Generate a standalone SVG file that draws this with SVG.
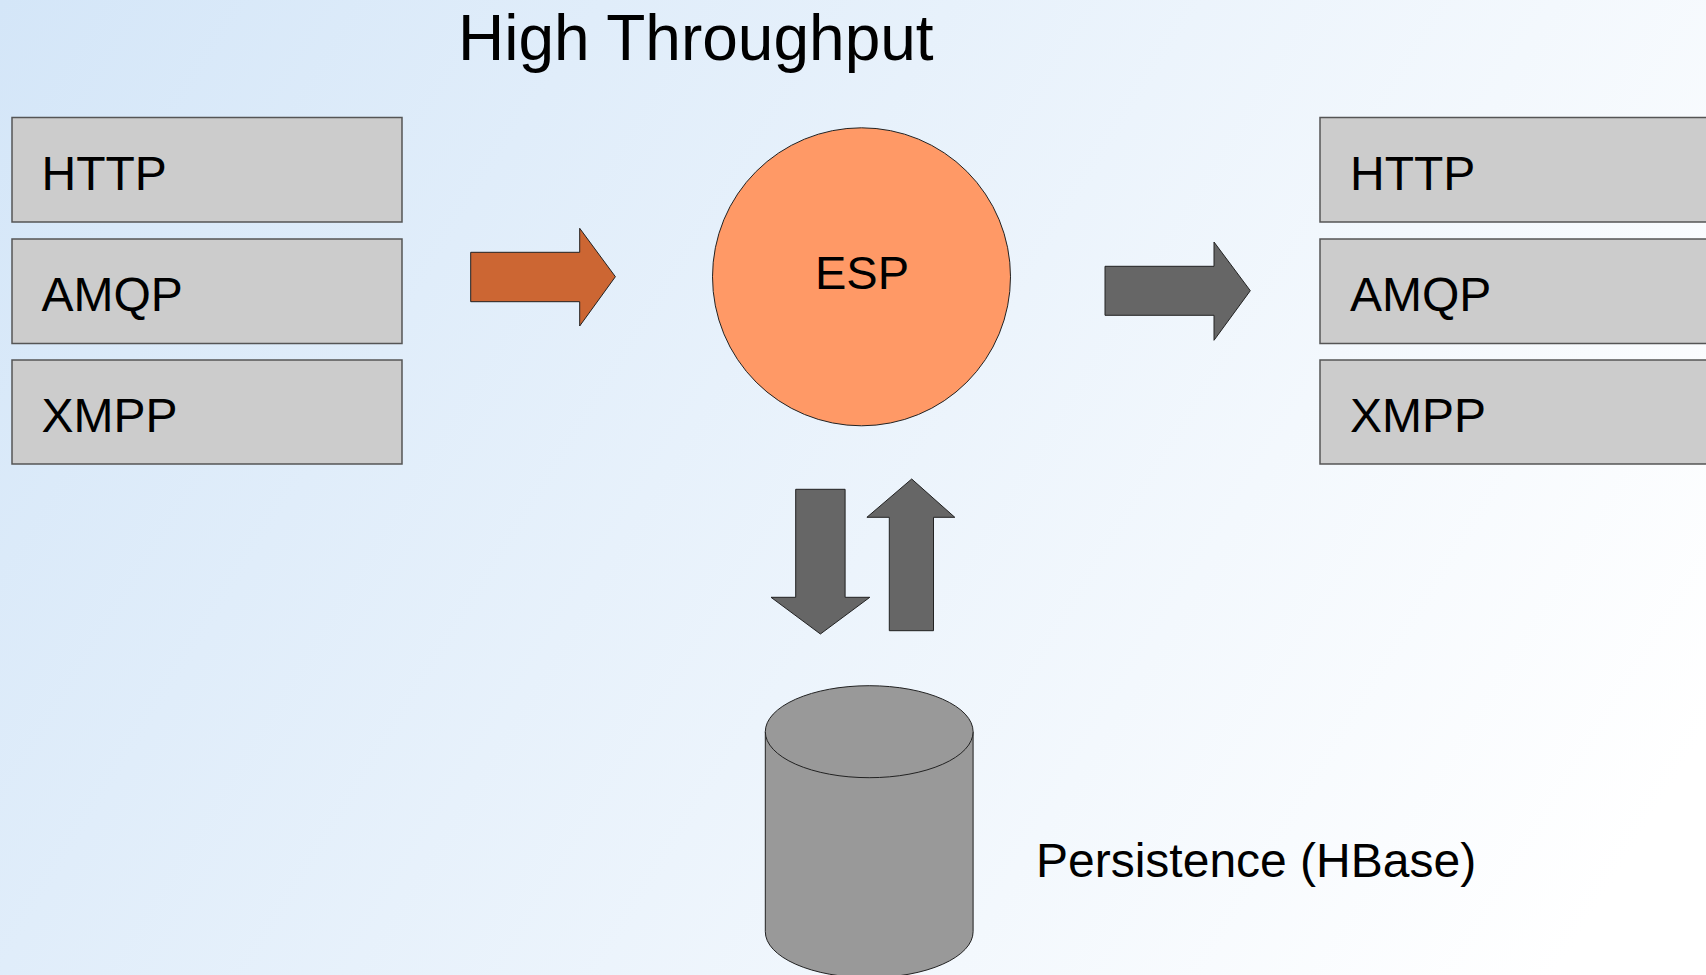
<svg xmlns="http://www.w3.org/2000/svg" width="1706" height="975" viewBox="0 0 1706 975">
<defs>
<linearGradient id="bg" gradientUnits="userSpaceOnUse" x1="0" y1="0" x2="1561" y2="967">
<stop offset="0" stop-color="#d4e6f8"/>
<stop offset="1" stop-color="#ffffff"/>
</linearGradient>
</defs>
<style>
text{font-family:"Liberation Sans",Arial,sans-serif;fill:#000}
.box{fill:#cccccc;stroke:#555555;stroke-width:1.5}
.lbl{font-size:48px}
.gray{fill:#666666;stroke:#222222;stroke-width:1}
</style>
<rect x="0" y="0" width="1706" height="975" fill="url(#bg)"/>
<text id="title" x="458" y="60" font-size="64">High Throughput</text>

<g id="in-http"><rect class="box" x="12" y="117.5" width="390" height="104.5"/><text class="lbl" x="41.5" y="190">HTTP</text></g>
<g id="in-amqp"><rect class="box" x="12" y="239" width="390" height="104.5"/><text class="lbl" x="41.5" y="311">AMQP</text></g>
<g id="in-xmpp"><rect class="box" x="12" y="360" width="390" height="104"/><text class="lbl" x="41.5" y="432">XMPP</text></g>

<g id="esp"><circle cx="861.5" cy="276.8" r="149" fill="#ff9966" stroke="#222222" stroke-width="1"/><text x="862" y="289" font-size="47" text-anchor="middle">ESP</text></g>

<g id="out-http"><rect class="box" x="1320" y="117.5" width="400" height="104.5"/><text class="lbl" x="1350" y="190">HTTP</text></g>
<g id="out-amqp"><rect class="box" x="1320" y="239" width="400" height="104.5"/><text class="lbl" x="1350" y="311">AMQP</text></g>
<g id="out-xmpp"><rect class="box" x="1320" y="360" width="400" height="104"/><text class="lbl" x="1350" y="432">XMPP</text></g>

<g id="db">
<path d="M765.3,731.7 V931.7 A103.9,46 0 0 0 973.1,931.7 V731.7" fill="#999999" stroke="#222222" stroke-width="1"/>
<ellipse cx="869.2" cy="731.7" rx="103.9" ry="46" fill="#999999" stroke="#222222" stroke-width="1"/>
<text x="1036" y="877" font-size="48">Persistence (HBase)</text>
</g>

<g id="connectors">
<polygon points="470.7,252.3 579.7,252.3 579.7,228.3 615.4,276.7 579.7,326 579.7,301.7 470.7,301.7" fill="#cc6633" stroke="#222222" stroke-width="1"/>
<polygon class="gray" points="1105,266.3 1214,266.3 1214,242 1250.3,290.7 1214,340.3 1214,315.3 1105,315.3"/>
<polygon class="gray" points="795.7,489.3 845.1,489.3 845.1,597.3 869.8,597.3 820.4,634 771,597.3 795.7,597.3"/>
<polygon class="gray" points="889.3,630.7 933.5,630.7 933.5,517.3 954.8,517.3 911.7,479 866.9,517.3 889.3,517.3"/>
</g>
</svg>
